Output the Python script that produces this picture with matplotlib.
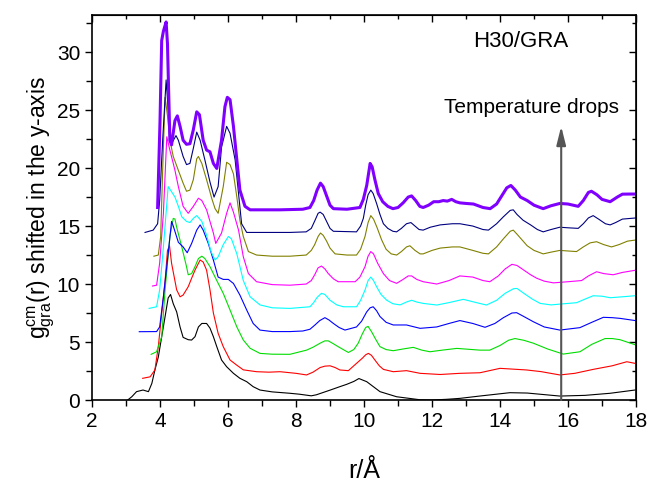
import matplotlib
matplotlib.use("Agg")
import matplotlib.pyplot as plt
from matplotlib.ticker import MultipleLocator

plt.rcParams['font.family'] = ['Liberation Sans', 'DejaVu Sans']
plt.rcParams['mathtext.fontset'] = 'custom'
plt.rcParams['mathtext.rm'] = 'Liberation Sans'
plt.rcParams['mathtext.it'] = 'Liberation Sans'

# ---- data ----
r_black = [3.05,3.17,3.31,3.5,3.66,3.76,3.85,3.95,4.05,4.15,4.24,4.31,4.39,4.49,4.59,4.68,4.83,4.93,5.03,5.13,5.23,5.37,5.47,5.57,5.67,5.81,5.96,6.16,6.35,6.55,6.74,6.94,7.3,7.82,8.1,8.45,8.6,9.0,9.29,9.49,9.7,9.85,10.08,10.47,10.96,11.65,12.0,12.43,12.82,13.4,14.29,14.8,15.76,16.5,17.24,17.97]
g_black = [0,0.28,0.72,0.86,0.72,1.43,2.59,3.7,5.46,7.2,8.8,9.1,8.3,7.6,6.3,5.4,5.2,5.17,5.46,6.3,6.6,6.6,6.2,5.46,4.6,3.45,2.87,2.3,1.87,1.58,1.15,0.86,0.7,0.58,0.5,0.36,0.45,0.85,1.15,1.35,1.6,1.85,1.58,0.72,0.28,0.02,0.0,0.06,0.14,0.34,0.63,0.6,0.34,0.4,0.58,0.86]

r_red = [3.49,3.71,3.85,3.95,4.05,4.15,4.22,4.28,4.34,4.49,4.59,4.68,4.83,4.93,5.03,5.18,5.27,5.37,5.47,5.57,5.71,5.86,6.06,6.26,6.45,6.84,7.2,7.53,8.0,8.31,8.5,8.71,8.85,9.0,9.15,9.29,9.54,9.78,9.95,10.05,10.13,10.22,10.32,10.45,10.57,10.86,11.25,11.65,12.24,12.82,13.41,14.0,14.78,15.2,15.76,16.2,16.74,17.3,17.73,17.97]
g_red = [1.87,2.0,2.59,4.6,7.47,10.3,12.9,13.3,11.8,9.5,8.9,9.05,9.77,10.5,11.2,12.07,11.9,11.2,9.5,7.5,5.75,4.6,3.45,3.0,2.6,2.44,2.4,2.44,2.3,2.16,2.4,2.8,2.92,2.95,2.8,2.59,2.53,3.16,3.6,3.9,4.02,3.85,3.45,2.95,2.64,2.44,2.53,2.3,2.2,2.3,2.35,2.73,2.59,2.45,2.16,2.3,2.64,2.95,3.3,3.16]

r_green = [3.74,3.9,4.05,4.15,4.29,4.39,4.44,4.49,4.64,4.78,4.83,4.93,5.03,5.13,5.23,5.32,5.47,5.67,5.86,6.06,6.26,6.45,6.65,6.94,7.3,7.82,8.31,8.5,8.71,8.85,8.95,9.1,9.24,9.54,9.7,9.83,9.95,10.05,10.12,10.22,10.35,10.47,10.65,10.86,11.15,11.45,11.7,11.94,12.3,12.73,13.41,13.7,14.0,14.25,14.44,14.7,14.98,15.4,15.86,16.35,16.7,17.09,17.3,17.53,18.0]
g_green = [3.94,4.16,5.46,9.5,14.1,15.66,15.6,14.9,13.2,11.5,10.8,10.9,11.5,12.2,12.4,12.2,11.5,10.3,9.2,7.76,6.3,5.17,4.46,4.02,3.95,3.94,4.3,4.55,4.9,5.1,5.1,4.85,4.6,4.1,4.35,4.9,5.7,6.25,6.35,5.9,5.2,4.6,4.35,4.25,4.4,4.54,4.3,4.16,4.3,4.45,4.3,4.3,4.7,5.15,5.3,5.15,4.9,4.4,3.96,4.16,4.8,5.3,5.3,5.2,4.74]

r_blue = [3.39,3.9,3.99,4.1,4.24,4.34,4.39,4.54,4.68,4.8,4.93,5.08,5.18,5.27,5.42,5.57,5.71,5.86,6.01,6.16,6.35,6.55,6.74,6.94,7.3,7.82,8.2,8.41,8.55,8.7,8.85,8.97,9.1,9.27,9.44,9.78,9.93,10.08,10.18,10.27,10.37,10.47,10.65,10.86,11.25,11.65,12.14,12.5,12.82,13.2,13.56,13.85,14.1,14.35,14.49,14.7,14.98,15.3,15.76,16.35,16.7,17.04,17.3,17.53,18.0]
g_blue = [5.89,5.9,6.3,8.9,12.6,15.4,15.0,13.6,13.2,12.7,13.5,14.65,15.1,14.65,13.5,12.07,10.6,10.4,10.4,10.05,9.05,7.76,6.6,6.03,5.9,5.9,5.95,6.1,6.45,6.85,7.1,6.9,6.6,6.25,6.03,6.3,6.8,7.6,7.95,8.04,7.7,7.2,6.7,6.47,6.47,6.18,6.3,6.6,6.85,6.6,6.27,6.6,7.1,7.5,7.53,7.2,6.75,6.3,6.03,6.24,6.7,7.13,7.1,7.04,6.84]

r_cyan = [3.68,3.9,3.99,4.1,4.24,4.34,4.44,4.54,4.64,4.78,4.88,4.98,5.08,5.23,5.37,5.5,5.62,5.71,5.86,6.01,6.1,6.26,6.45,6.65,6.94,7.3,7.82,8.41,8.52,8.62,8.75,8.85,9.0,9.2,9.39,9.78,9.9,10.03,10.12,10.2,10.28,10.37,10.5,10.67,10.85,11.06,11.25,11.4,11.55,11.74,12.14,12.5,12.92,13.3,13.6,13.9,14.15,14.4,14.5,14.7,14.95,15.18,15.5,15.76,16.25,16.5,16.74,17.0,17.24,17.6,18.0]
g_cyan = [7.9,8.04,9.5,13.2,18.4,17.96,17.5,16.7,15.8,15.4,15.3,15.66,15.9,15.4,14.2,12.8,12.07,12.35,13.4,14.1,13.9,12.6,10.3,8.9,8.2,7.95,7.9,8.04,8.4,8.85,9.2,9.1,8.6,8.2,8.04,8.04,8.6,9.48,10.3,10.6,10.3,9.77,9.1,8.6,8.3,8.2,8.45,8.6,8.45,8.33,8.19,8.4,8.68,8.4,8.19,8.6,9.2,9.6,9.62,9.2,8.7,8.33,8.2,8.27,8.39,8.7,8.99,8.95,8.82,8.9,9.0]

r_magenta = [3.78,3.9,3.99,4.1,4.2,4.29,4.39,4.44,4.54,4.68,4.83,4.98,5.13,5.23,5.37,5.57,5.64,5.81,5.96,6.06,6.16,6.31,6.45,6.6,6.84,7.3,7.82,8.3,8.45,8.55,8.65,8.75,8.85,8.95,9.1,9.24,9.74,9.88,10.03,10.12,10.2,10.28,10.4,10.57,10.75,10.96,11.15,11.3,11.4,11.55,11.74,12.14,12.5,12.82,13.2,13.5,13.7,13.95,14.15,14.35,14.5,14.7,14.9,15.08,15.3,15.57,16.0,16.4,16.6,16.84,17.05,17.33,17.6,18.0]
g_magenta = [9.83,9.9,11.8,16.1,22.7,21.55,20.4,19.8,18.4,16.7,16.1,16.7,17.4,17.2,16.4,14.4,13.5,14.4,16.1,17.0,16.2,14.65,12.35,10.9,10.2,9.95,9.9,10.0,10.3,10.8,11.4,11.55,11.3,10.9,10.45,10.2,10.2,10.6,11.5,12.4,12.8,12.6,11.8,10.9,10.3,10.06,10.4,10.7,10.7,10.4,10.2,10.0,10.3,10.7,10.6,10.3,10.2,10.7,11.3,11.7,11.6,11.2,10.8,10.5,10.25,10.1,10.2,10.3,10.7,11.06,10.9,10.8,11.0,11.2]

r_olive = [3.82,3.95,4.02,4.08,4.15,4.22,4.29,4.39,4.54,4.68,4.78,4.88,4.98,5.08,5.13,5.23,5.37,5.52,5.62,5.71,5.86,5.96,6.06,6.16,6.26,6.35,6.45,6.6,6.84,7.3,7.82,8.3,8.45,8.55,8.65,8.72,8.8,8.9,9.0,9.15,9.5,9.78,9.9,10.03,10.12,10.2,10.28,10.38,10.52,10.65,10.8,10.96,11.1,11.25,11.35,11.5,11.65,11.74,12.0,12.24,12.6,12.82,13.2,13.5,13.66,13.9,14.1,14.3,14.39,14.5,14.65,14.8,15.0,15.27,15.5,15.76,16.0,16.25,16.45,16.65,16.84,17.05,17.28,17.5,17.75,18.0]
g_olive = [12.4,12.5,14.1,20.0,26.1,24.5,22.4,21.0,19.8,18.7,18.0,18.1,19.0,20.8,21.0,20.4,19.0,17.4,16.5,16.1,18.4,20.5,20.3,19.5,17.5,15.5,14.1,12.8,12.5,12.4,12.4,12.5,12.9,13.4,14.1,14.4,14.2,13.7,13.1,12.6,12.5,12.5,13.0,14.1,15.3,15.9,15.6,14.9,13.8,13.0,12.6,12.5,12.8,13.2,13.3,12.9,12.6,12.6,12.9,13.1,13.2,13.2,12.9,12.65,12.6,13.2,13.9,14.55,14.65,14.3,13.8,13.3,12.9,12.6,12.75,12.9,12.85,12.8,13.2,13.55,13.65,13.4,13.2,13.4,13.7,13.8]

r_navy = [3.56,3.8,3.93,3.99,4.08,4.18,4.29,4.34,4.47,4.54,4.68,4.78,4.88,4.98,5.08,5.18,5.32,5.47,5.59,5.71,5.81,5.96,6.06,6.21,6.31,6.4,6.55,7.0,7.82,8.3,8.45,8.56,8.65,8.71,8.8,8.9,9.0,9.1,9.78,9.9,9.98,10.05,10.12,10.2,10.27,10.37,10.47,10.57,10.7,10.85,10.96,11.1,11.25,11.38,11.5,11.62,11.74,11.95,12.24,12.6,12.82,13.2,13.5,13.66,13.9,14.1,14.3,14.39,14.5,14.68,14.9,15.1,15.27,15.5,15.76,16.0,16.3,16.45,16.6,16.74,16.9,17.1,17.24,17.4,17.6,18.0]
g_navy = [14.45,14.65,15.2,17.2,22.5,27.6,23.0,22.1,22.8,22.4,21.0,20.3,20.4,21.7,23.1,22.4,20.7,18.8,17.5,18.4,21.8,23.6,23.0,20.7,17.8,15.2,14.45,14.45,14.45,14.5,14.8,15.5,16.1,16.2,16.0,15.4,14.8,14.55,14.5,15.0,15.66,16.8,17.7,18.1,17.8,16.95,16.0,15.2,14.8,14.55,14.5,14.8,15.2,15.3,15.0,14.7,14.65,14.9,15.1,15.2,15.2,15.0,14.7,14.65,15.2,15.8,16.35,16.4,16.0,15.5,15.1,14.7,14.5,14.7,14.9,14.85,14.8,15.2,15.7,15.9,15.6,15.2,15.1,15.3,15.6,15.7]

r_violet = [3.93,4.0,4.05,4.1,4.15,4.18,4.22,4.29,4.34,4.44,4.51,4.59,4.68,4.78,4.88,4.98,5.08,5.16,5.27,5.37,5.47,5.57,5.67,5.81,5.91,5.98,6.06,6.16,6.26,6.35,6.5,6.65,7.0,7.53,8.2,8.41,8.52,8.62,8.72,8.8,8.9,9.0,9.1,9.5,9.88,9.98,10.08,10.18,10.24,10.32,10.42,10.55,10.7,10.85,11.0,11.15,11.3,11.4,11.52,11.64,11.74,11.9,12.05,12.2,12.33,12.45,12.58,12.7,12.82,13.0,13.22,13.5,13.71,13.9,14.05,14.2,14.32,14.45,14.6,14.8,15.0,15.27,15.5,15.76,16.0,16.3,16.45,16.6,16.69,16.85,17.0,17.24,17.45,17.6,17.8,18.0]
g_violet = [16.6,24.0,31.0,31.8,32.3,32.6,30.7,22.4,22.0,24.1,24.5,23.6,22.4,22.05,22.1,23.3,24.85,24.6,22.4,21.55,21.4,20.4,19.97,22.4,25.3,26.1,25.9,23.6,20.7,18.1,16.7,16.4,16.4,16.4,16.45,16.6,17.2,18.1,18.7,18.4,17.6,16.8,16.5,16.45,16.6,17.3,18.5,20.4,20.1,19.0,17.8,17.1,16.7,16.5,16.6,17.0,17.5,17.6,17.2,16.7,16.6,16.8,17.1,17.1,17.2,17.15,17.3,17.1,17.0,16.95,16.9,16.6,16.5,16.9,17.6,18.3,18.5,18.1,17.5,17.2,16.8,16.5,16.75,16.95,16.9,16.7,17.2,17.9,18.0,17.7,17.3,17.1,17.5,17.75,17.76,17.76]

series = [
    (r_black, g_black, '#000000', 0.8),
    (r_red, g_red, '#ff0000', 0.8),
    (r_green, g_green, '#00dd00', 0.8),
    (r_blue, g_blue, '#0000ff', 0.8),
    (r_cyan, g_cyan, '#00ffff', 0.8),
    (r_magenta, g_magenta, '#ff00ff', 0.8),
    (r_olive, g_olive, '#808000', 0.8),
    (r_navy, g_navy, '#000080', 0.8),
    (r_violet, g_violet, '#8000ff', 2.2),
]

arrow_r = 15.8
arrow_g = (0.0, 23.6)

fig = plt.figure(figsize=(6.5, 4.84), dpi=100)
ax = fig.add_axes([92/650, 84/484, 544/650, 385/484])

for r, g, c, lw in series:
    ax.plot(r, g, color=c, lw=lw, solid_joinstyle='round')

ax.set_xlim(2, 18)
ax.set_ylim(0, 33.2)
ax.xaxis.set_major_locator(MultipleLocator(2))
ax.xaxis.set_minor_locator(MultipleLocator(1))
ax.yaxis.set_major_locator(MultipleLocator(5))
ax.yaxis.set_minor_locator(MultipleLocator(2.5))
ax.tick_params(which='both', direction='out', width=1.0, labelsize=15, top=False, right=False)
ax.tick_params(which='major', length=5)
ax.tick_params(which='minor', length=4)
for s in ax.spines.values():
    s.set_linewidth(1.2)

axt = ax.secondary_xaxis('top')
axt.xaxis.set_major_locator(MultipleLocator(2))
axt.xaxis.set_minor_locator(MultipleLocator(1))
axt.tick_params(which='both', direction='in', labeltop=False, width=1.0)
axt.tick_params(which='major', length=5)
axt.tick_params(which='minor', length=3)
axr = ax.secondary_yaxis('right')
axr.yaxis.set_major_locator(MultipleLocator(5))
axr.yaxis.set_minor_locator(MultipleLocator(2.5))
axr.tick_params(which='both', direction='in', labelright=False, width=1.0)
axr.tick_params(which='major', length=5)
axr.tick_params(which='minor', length=3)

ax.set_xlabel('r/Å', fontsize=18, labelpad=20)
ax.set_ylabel(r'$\mathregular{g_{gra}^{cm}}$(r) shifted in the y-axis', fontsize=16.5, labelpad=0)

ax.annotate('', xy=(arrow_r, arrow_g[1]), xytext=(arrow_r, arrow_g[0]),
            arrowprops=dict(arrowstyle='-|>,head_width=0.2,head_length=0.8', color='#555555', lw=1.5,
                            mutation_scale=14, shrinkA=0, shrinkB=0))
ax.text(14.6, 30.4, 'H30/GRA', fontsize=16, ha='center', va='baseline')
ax.text(14.93, 24.74, 'Temperature drops', fontsize=15, ha='center', va='baseline')

fig.savefig('out.png', dpi=100)
